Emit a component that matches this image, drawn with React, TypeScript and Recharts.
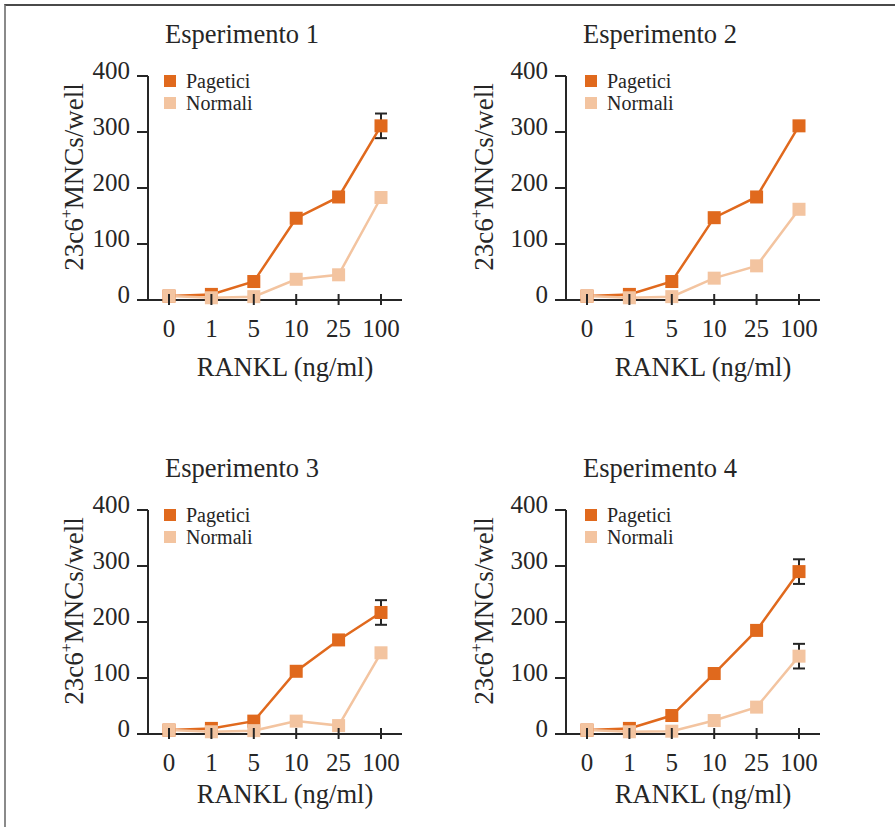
import React from "react";
import { LineChart, Line, XAxis, YAxis, Legend, ErrorBar } from "recharts";

const doses = ["0", "1", "5", "10", "25", "100"];
const yTicks = [0, 100, 200, 300, 400];
const seriesOrder = ["Pagetici", "Normali"];

const exp1Pagetici = [7, 10, 33, 146, 184, 311];
const exp1Normali = [7, 4, 6, 37, 45, 183];
const exp1PageticiErr = [0, 0, 0, 0, 0, 22];
const exp1NormaliErr = [0, 0, 0, 0, 0, 0];

const exp2Pagetici = [7, 10, 33, 147, 184, 311];
const exp2Normali = [7, 4, 6, 39, 61, 162];
const exp2PageticiErr = [0, 0, 0, 0, 0, 0];
const exp2NormaliErr = [0, 0, 0, 0, 0, 0];

const exp3Pagetici = [7, 10, 23, 112, 168, 217];
const exp3Normali = [7, 4, 6, 23, 15, 145];
const exp3PageticiErr = [0, 0, 0, 0, 0, 22];
const exp3NormaliErr = [0, 0, 0, 0, 0, 0];

const exp4Pagetici = [7, 10, 33, 108, 185, 290];
const exp4Normali = [7, 4, 5, 24, 48, 139];
const exp4PageticiErr = [0, 0, 0, 0, 0, 22];
const exp4NormaliErr = [0, 0, 0, 0, 0, 22];

const FONT = '"Liberation Serif", "Times New Roman", serif';
const INK = "#262626";
const ORANGE = "#e0691d";
const PEACH = "#f3c4a0";

function buildRows(p: number[], n: number[], pe: number[], ne: number[]) {
  return doses.map((dose, i) => ({
    dose,
    pagetici: p[i],
    normali: n[i],
    pageticiErr: pe[i],
    normaliErr: ne[i],
  }));
}

const squareDot = (color: string) => (props: any) => {
  const { cx, cy, index } = props;
  if (cx == null || cy == null) return <g key={index} />;
  return <rect key={index} x={cx - 6.5} y={cy - 6.5} width={13} height={13} fill={color} />;
};

const YTick = (props: any) => {
  const { x, y, payload } = props;
  return (
    <g>
      <line x1={x - 11} x2={x} y1={y} y2={y} stroke={INK} strokeWidth={2} />
      <text x={x - 18} y={y + 3} textAnchor="end" fontSize={25} fill={INK} fontFamily={FONT}>
        {payload.value}
      </text>
    </g>
  );
};

const XTick = (props: any) => {
  const { x, y, payload } = props;
  return (
    <g>
      <line x1={x} x2={x} y1={y - 6} y2={y + 5} stroke={INK} strokeWidth={2} />
      <text x={x} y={y + 37} textAnchor="middle" fontSize={25} fill={INK} fontFamily={FONT}>
        {payload.value}
      </text>
    </g>
  );
};

const YLabel = (props: any) => {
  const { viewBox, gap } = props;
  const bx = viewBox.x + viewBox.width - gap;
  const cy = viewBox.y + 101;
  return (
    <text
      x={bx}
      y={cy}
      transform={`rotate(-90, ${bx}, ${cy})`}
      textAnchor="middle"
      fontSize={27}
      fill={INK}
      fontFamily={FONT}
    >
      23c6
      <tspan dy={-11} fontSize={16}>+</tspan>
      <tspan dy={11}>MNCs/well</tspan>
    </text>
  );
};

const XLabel = (props: any) => {
  const { viewBox, drop } = props;
  return (
    <text
      x={viewBox.x + viewBox.width / 2 + 10}
      y={viewBox.y + drop}
      textAnchor="middle"
      fontSize={26.5}
      fill={INK}
      fontFamily={FONT}
    >
      RANKL (ng/ml)
    </text>
  );
};

const renderLegend = (props: any) => {
  const items = [...(props.payload || [])].sort(
    (a: any, b: any) => seriesOrder.indexOf(a.value) - seriesOrder.indexOf(b.value)
  );
  return (
    <div style={{ fontFamily: FONT, fontSize: 20, color: INK }}>
      {items.map((item: any) => (
        <div key={item.value} style={{ display: "flex", alignItems: "center", height: 22 }}>
          <span style={{ display: "inline-block", width: 12, height: 12, background: item.color, marginRight: 10 }} />
          <span>{item.value}</span>
        </div>
      ))}
    </div>
  );
};

interface PanelProps {
  title: string;
  rows: any[];
  left: number;
  top: number;
  labelGap: number;
  labelDrop: number;
  legendLeft: number;
}

function Panel({ title, rows, left, top, labelGap, labelDrop, legendLeft }: PanelProps) {
  return (
    <div style={{ position: "absolute", left, top, width: 420, height: 400 }}>
      <div
        style={{
          position: "absolute",
          left: 92,
          top: 22,
          width: 300,
          textAlign: "center",
          fontFamily: FONT,
          fontSize: 26.5,
          lineHeight: "25px",
          color: INK,
        }}
      >
        {title}
      </div>
      <LineChart width={420} height={400} data={rows} margin={{ top: 76, right: 18, bottom: 40, left: 88 }}>
        <XAxis
          dataKey="dose"
          height={60}
          padding={{ left: 21, right: 21 }}
          tickSize={0}
          tickMargin={0}
          tickLine={false}
          interval={0}
          axisLine={{ stroke: INK, strokeWidth: 2 }}
          tick={<XTick />}
          label={<XLabel drop={labelDrop} />}
        />
        <YAxis
          domain={[0, 400]}
          ticks={yTicks}
          width={60}
          tickSize={0}
          tickMargin={0}
          tickLine={false}
          interval={0}
          axisLine={{ stroke: INK, strokeWidth: 2 }}
          tick={<YTick />}
          label={<YLabel gap={labelGap} />}
        />
        <Legend
          layout="vertical"
          align="center"
          verticalAlign="middle"
          wrapperStyle={{ top: 70, left: legendLeft, width: "auto" }}
          content={renderLegend}
        />
        <Line
          name="Pagetici"
          dataKey="pagetici"
          type="linear"
          stroke={ORANGE}
          strokeWidth={2.5}
          dot={squareDot(ORANGE)}
          activeDot={false}
          isAnimationActive={false}
        >
          <ErrorBar dataKey="pageticiErr" width={6} strokeWidth={2} stroke={INK} direction="y" isAnimationActive={false} />
        </Line>
        <Line
          name="Normali"
          dataKey="normali"
          type="linear"
          stroke={PEACH}
          strokeWidth={2.5}
          dot={squareDot(PEACH)}
          activeDot={false}
          isAnimationActive={false}
        >
          <ErrorBar dataKey="normaliErr" width={6} strokeWidth={2} stroke={INK} direction="y" isAnimationActive={false} />
        </Line>
      </LineChart>
    </div>
  );
}

export default function App() {
  return (
    <div
      style={{
        position: "absolute",
        left: 0,
        top: 0,
        width: 895,
        height: 827,
        background: "#fff",
        overflow: "hidden",
      }}
    >
      <div
        style={{
          position: "absolute",
          left: 4,
          top: 4,
          width: 891,
          height: 823,
          borderTop: "2px solid #4a4a4a",
          borderLeft: "2px solid #8a8a8a",
          boxSizing: "border-box",
        }}
      />
      <Panel
        title="Esperimento 1"
        rows={buildRows(exp1Pagetici, exp1Normali, exp1PageticiErr, exp1NormaliErr)}
        left={0}
        top={0}
        labelGap={65}
        labelDrop={76}
        legendLeft={164}
      />
      <Panel
        title="Esperimento 2"
        rows={buildRows(exp2Pagetici, exp2Normali, exp2PageticiErr, exp2NormaliErr)}
        left={418}
        top={0}
        labelGap={73}
        labelDrop={76}
        legendLeft={167}
      />
      <Panel
        title="Esperimento 3"
        rows={buildRows(exp3Pagetici, exp3Normali, exp3PageticiErr, exp3NormaliErr)}
        left={0}
        top={434}
        labelGap={65}
        labelDrop={69}
        legendLeft={164}
      />
      <Panel
        title="Esperimento 4"
        rows={buildRows(exp4Pagetici, exp4Normali, exp4PageticiErr, exp4NormaliErr)}
        left={418}
        top={434}
        labelGap={73}
        labelDrop={69}
        legendLeft={167}
      />
    </div>
  );
}
